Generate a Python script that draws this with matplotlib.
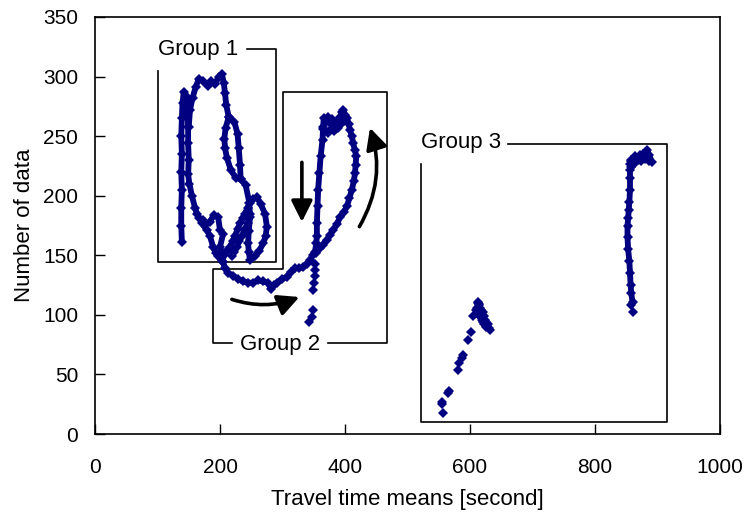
import matplotlib
matplotlib.use("Agg")
import matplotlib.pyplot as plt
from matplotlib.patches import FancyArrowPatch

plt.rcParams['font.family'] = ['Liberation Sans', 'DejaVu Sans']

NAVY = '#000080'

# group 1: main looping trace (travel time, number of data)
g1_x = [139, 138, 138, 139, 138, 139, 138, 139, 140, 142,
        146, 148, 149, 149, 150, 149, 151, 155, 160, 163, 167, 171, 179, 184,
        189, 193, 197, 203, 207, 211, 216, 220, 224, 228, 232, 236, 240, 244,
        248, 253, 259, 265, 272, 275, 273, 269, 263, 256, 248, 246, 245, 246,
        248, 247, 241, 233, 232, 230, 228, 223, 214, 210, 208, 206, 203, 198,
        192, 186, 180, 173, 166, 161, 156, 152, 150]
g1_y = [161, 175, 190, 205, 220, 235, 250, 265, 278, 287,
        284, 272, 258, 244, 230, 218, 210, 200, 190, 185, 181, 177, 171, 166,
        157, 152, 149, 145, 150, 154, 157, 162, 166, 172, 177, 181, 185, 190,
        194, 197, 199, 193, 185, 174, 166, 160, 154, 149, 146, 153, 160, 170,
        182, 194, 209, 214, 226, 240, 252, 262, 266, 276, 286, 295, 302, 300,
        294, 296, 292, 296, 298, 291, 282, 272, 258]

# inner strand of the upper loop
g1_in_x = [214, 209, 207, 208, 211, 217, 225, 233]
g1_in_y = [266, 257, 248, 240, 232, 222, 215, 214]

# lower strands of group 1
g1_low_x = [173, 178, 184, 190, 197, 200, 205, 200, 205, 211]
g1_low_y = [180, 176, 178, 184, 182, 171, 168, 157, 150, 154]
g1_low2_x = [219, 223, 227, 231, 235, 240, 245, 248]
g1_low2_y = [149, 153, 157, 162, 166, 172, 177, 185]

# group 2: trace leaving group 1, climbing and returning
g2_x = [205, 208, 213, 221, 229, 237, 245, 253, 261, 269, 277, 281, 286,
        291, 299, 307, 314, 320, 327, 333, 339, 344, 348, 352,
        354, 355, 355, 356, 357, 359, 361, 364, 365, 366, 369, 372, 376, 379,
        381, 384, 387, 390, 392, 395, 397, 400, 403, 406, 408, 411, 413, 416,
        418, 417, 416, 414, 411, 407, 403, 398, 392, 387, 381, 376, 371, 365,
        360, 354]
g2_y = [144, 139, 135, 133, 130, 128, 127, 127, 129, 128, 127, 122, 125,
        127, 130, 132, 136, 139, 139, 140, 143, 146, 150, 153,
        160, 166, 177, 191, 205, 219, 233, 247, 258, 265, 262, 266, 261, 264,
        263, 260, 261, 264, 266, 270, 272, 268, 265, 260, 255, 250, 244, 238,
        233, 226, 219, 212, 205, 198, 191, 186, 182, 176, 171, 167, 163, 159,
        156, 152]

g2_top_x = [364, 368, 373, 378, 383, 388, 393, 398]
g2_top_y = [256, 254, 253, 256, 254, 257, 260, 263]

# group 2 tail, sparse points
g2_tail_x = [352, 352, 352, 351, 349, 349, 347, 342]
g2_tail_y = [143, 138, 133, 127, 121, 104, 98, 94]

# group 3: rising branch, sparse points
g3a_x = [556, 555, 555, 564, 566, 580, 583, 587, 589, 597, 601, 605,
         609, 611, 612, 613, 614, 615, 616, 618, 620, 622, 624, 626, 628,
         630, 632, 612, 614, 617, 619, 621, 623, 625]
g3a_y = [18, 25, 27, 34, 36, 54, 60, 64, 66, 79, 86, 99,
         104, 106, 111, 110, 109, 108, 106, 104, 102, 99, 96, 94, 92,
         89, 87, 101, 100, 98, 96, 94, 92, 90]

# group 3: near-vertical column with hook at the top
g3b_x = [860, 858, 857, 856, 855, 853, 852, 852, 853, 854, 855, 856, 856,
         856, 856, 857, 858, 861, 864, 868, 872, 876, 880, 883, 887, 891,
         886, 880, 874, 868, 862, 858]
g3b_y = [111, 118, 125, 135, 145, 155, 165, 175, 181, 188, 195, 205, 215,
         222, 227, 229, 230, 231, 233, 232, 234, 235, 236, 238, 234, 228,
         229, 231, 229, 230, 227, 224]
g3b_dot_x = [858, 861]
g3b_dot_y = [108, 102]

# group frames and labels
box1_x = [101, 101, 290, 290, 243]
box1_y = [305, 144, 144, 323, 323]
box2_x = [219, 189, 189, 301, 301, 467, 467, 373]
box2_y = [76, 76, 138.5, 138.5, 287, 287, 76, 76]
box3_x = [521, 521, 915, 915, 661]
box3_y = [227, 10, 10, 243, 243]

fig = plt.figure(figsize=(7.48, 5.18), dpi=100)
ax = fig.add_axes([95 / 748, 84 / 518, 625 / 748, 417 / 518])

trails = [(g1_x, g1_y), (g1_in_x, g1_in_y), (g1_low_x, g1_low_y),
          (g1_low2_x, g1_low2_y), (g2_x, g2_y), (g2_top_x, g2_top_y),
          (g3b_x, g3b_y)]
for xs, ys in trails:
    ax.plot(xs, ys, '-', color=NAVY, lw=4.2, solid_capstyle='round',
            solid_joinstyle='round', zorder=3)
    ax.plot(xs, ys, 'D', color=NAVY, ms=5, mew=0, zorder=3)

for xs, ys in [(g2_tail_x, g2_tail_y), (g3a_x, g3a_y), (g3b_dot_x, g3b_dot_y)]:
    ax.plot(xs, ys, 'D', color=NAVY, ms=5, mew=0, ls='none', zorder=3)

for bx, by in [(box1_x, box1_y), (box2_x, box2_y), (box3_x, box3_y)]:
    ax.plot(bx, by, '-', color='black', lw=1.2, zorder=2)

ax.text(100, 318, 'Group 1', fontsize=16, va='baseline', ha='left')
ax.text(296, 70.5, 'Group 2', fontsize=16, va='baseline', ha='center')
ax.text(521, 240, 'Group 3', fontsize=16, va='baseline', ha='left')

# direction arrows
arrows = [((331, 228), (331, 178), 'arc3,rad=0'),
          ((219, 113), (327, 115), 'arc3,rad=0.18'),
          ((423, 174), (440, 257), 'arc3,rad=0.22')]
for start, end, conn in arrows:
    ax.add_patch(FancyArrowPatch(start, end, connectionstyle=conn,
                                 arrowstyle='-|>,head_length=0.8,head_width=0.4',
                                 mutation_scale=16, lw=2.6, color='black',
                                 shrinkA=0, shrinkB=0, zorder=4))

ax.set_xlim(0, 1000)
ax.set_ylim(0, 350)
ax.set_xticks(range(0, 1001, 200))
ax.set_yticks(range(0, 351, 50))
ax.tick_params(direction='in', length=7, width=1, labelsize=15, pad=12)
ax.tick_params(axis='x', pad=17)
for sp in ax.spines.values():
    sp.set_linewidth(1.2)

ax.set_xlabel('Travel time means [second]', fontsize=16, labelpad=9)
ax.set_ylabel('Number of data', fontsize=16, labelpad=6)

fig.savefig('out.png', dpi=100)
